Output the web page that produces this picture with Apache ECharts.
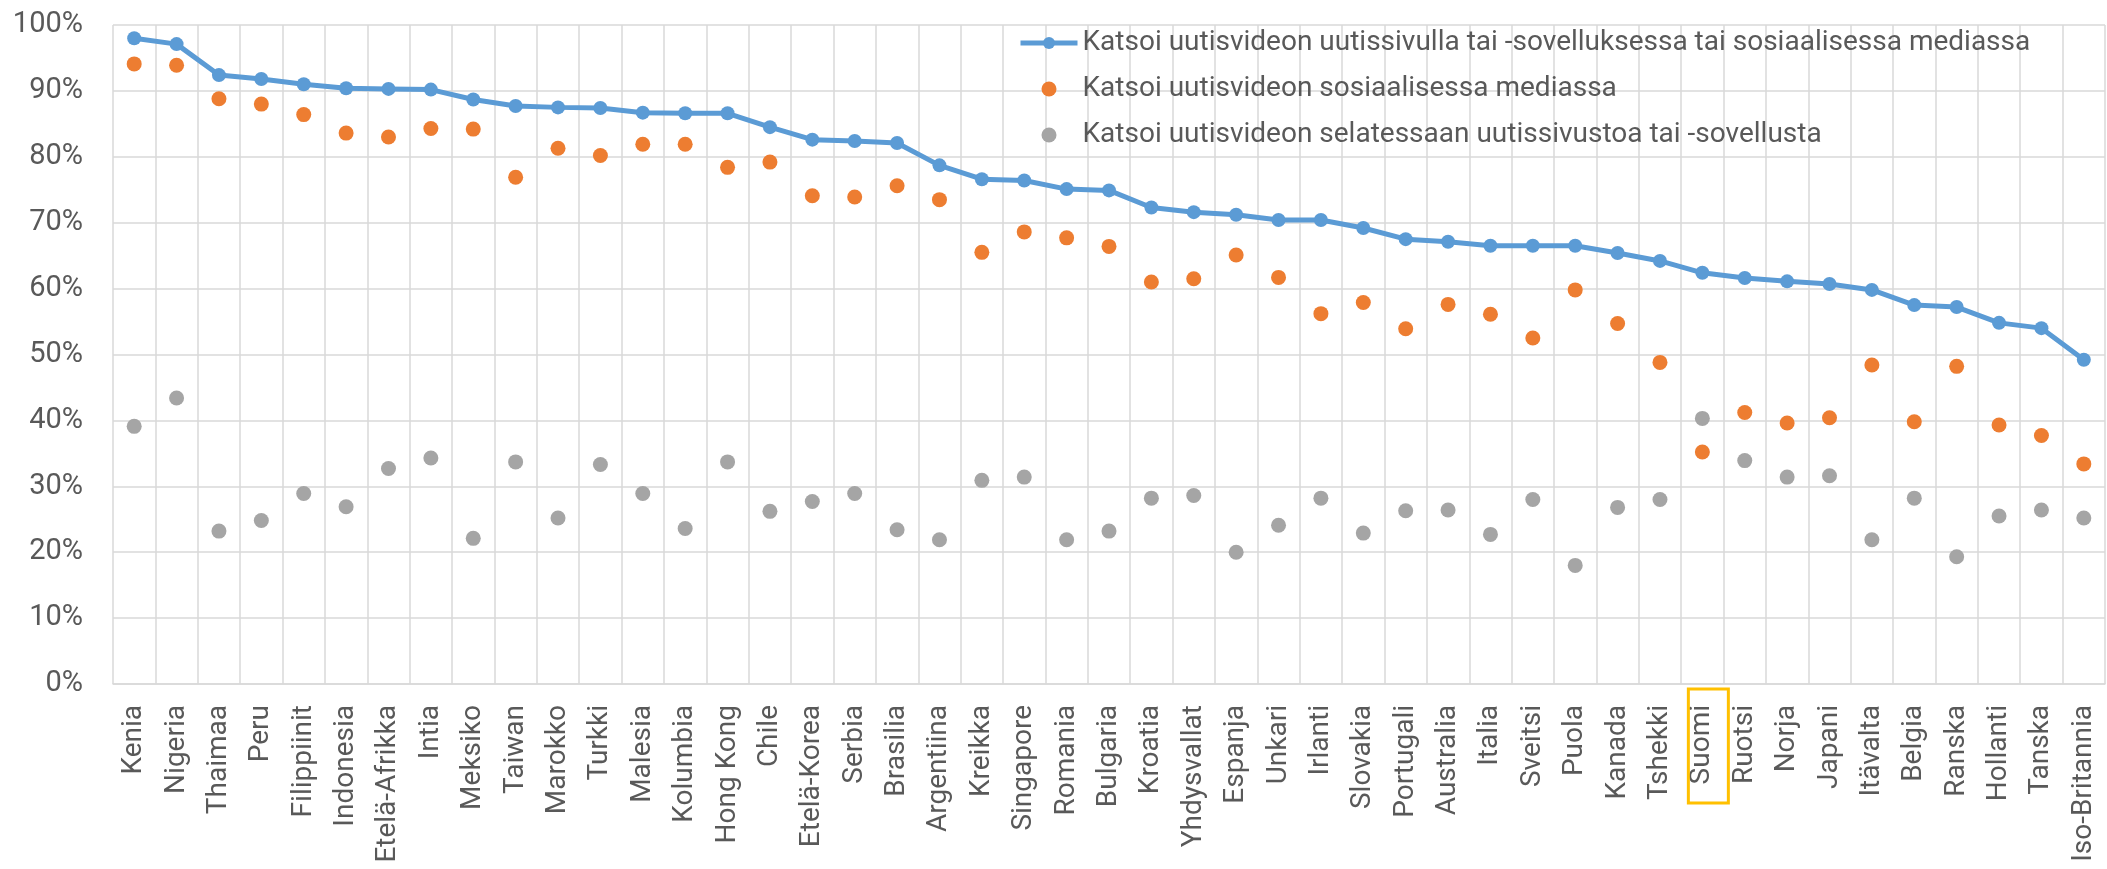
<!DOCTYPE html>
<html>
<head>
<meta charset="utf-8">
<script src="https://cdn.jsdelivr.net/npm/echarts@6/dist/echarts.min.js"></script>
<style>
  html, body { margin: 0; padding: 0; background: #ffffff; }
  #chart { width: 2107px; height: 869px; }
</style>
</head>
<body>
<div id="chart"></div>
<script>
// Countries, ordered by the share who watched a news video anywhere
const countries = [
  'Kenia', 'Nigeria', 'Thaimaa', 'Peru', 'Filippiinit', 'Indonesia', 'Etelä-Afrikka',
  'Intia', 'Meksiko', 'Taiwan', 'Marokko', 'Turkki', 'Malesia', 'Kolumbia', 'Hong Kong',
  'Chile', 'Etelä-Korea', 'Serbia', 'Brasilia', 'Argentiina', 'Kreikka', 'Singapore',
  'Romania', 'Bulgaria', 'Kroatia', 'Yhdysvallat', 'Espanja', 'Unkari', 'Irlanti',
  'Slovakia', 'Portugali', 'Australia', 'Italia', 'Sveitsi', 'Puola', 'Kanada',
  'Tshekki', 'Suomi', 'Ruotsi', 'Norja', 'Japani', 'Itävalta', 'Belgia', 'Ranska',
  'Hollanti', 'Tanska', 'Iso-Britannia'
];

// Watched a news video on a news site/app or in social media (%)
const anyPlatform = [
  98.0, 97.1, 92.4, 91.8, 91.0, 90.4, 90.3, 90.2, 88.7, 87.7, 87.5, 87.4, 86.7, 86.6,
  86.6, 84.5, 82.6, 82.4, 82.1, 78.7, 76.6, 76.4, 75.1, 74.9, 72.3, 71.6, 71.2, 70.4,
  70.4, 69.2, 67.5, 67.1, 66.5, 66.5, 66.5, 65.4, 64.2, 62.4, 61.6, 61.1, 60.7, 59.8,
  57.5, 57.2, 54.8, 54.0, 49.2
];

// Watched a news video in social media (%)
const socialMedia = [
  94.1, 93.9, 88.8, 88.0, 86.4, 83.6, 83.0, 84.3, 84.2, 76.9, 81.3, 80.2, 81.9, 81.9,
  78.4, 79.2, 74.1, 73.9, 75.6, 73.5, 65.5, 68.6, 67.7, 66.4, 61.0, 61.5, 65.1, 61.7,
  56.2, 57.9, 53.9, 57.6, 56.1, 52.5, 59.8, 54.7, 48.8, 35.2, 41.2, 39.6, 40.4, 48.4,
  39.8, 48.2, 39.3, 37.7, 33.4
];

// Watched a news video while browsing a news site or app (%)
const newsSite = [
  39.1, 43.4, 23.2, 24.8, 28.9, 26.9, 32.7, 34.3, 22.1, 33.7, 25.2, 33.3, 28.9, 23.6,
  33.7, 26.2, 27.7, 28.9, 23.4, 21.9, 30.9, 31.4, 21.9, 23.2, 28.2, 28.6, 20.0, 24.1,
  28.2, 22.9, 26.3, 26.4, 22.7, 28.0, 18.0, 26.8, 28.0, 40.3, 33.9, 31.4, 31.6, 21.9,
  28.2, 19.3, 25.5, 26.4, 25.2
];

const seriesNames = [
  'Katsoi uutisvideon uutissivulla tai -sovelluksessa tai sosiaalisessa mediassa',
  'Katsoi uutisvideon sosiaalisessa mediassa',
  'Katsoi uutisvideon selatessaan uutissivustoa tai -sovellusta'
];

const highlighted = 'Suomi';

const FONT = 'Roboto, "Noto Sans", sans-serif';
const TEXT = '#595959';
const GRID = '#d9d9d9';

const chart = echarts.init(document.getElementById('chart'));

chart.setOption({
  backgroundColor: '#ffffff',
  animation: false,
  grid: { left: 113, top: 25, width: 1992, height: 659, containLabel: false },
  legend: {
    orient: 'vertical',
    left: 1018,
    top: 20,
    padding: 0,
    itemWidth: 57,
    itemHeight: 15,
    itemGap: 0,
    data: seriesNames,
    lineStyle: { width: 5 },
    textStyle: { color: TEXT, fontFamily: FONT, fontSize: 28, lineHeight: 46 }
  },
  xAxis: {
    type: 'category',
    data: countries,
    boundaryGap: true,
    axisLine: { show: true, lineStyle: { color: GRID, width: 1.5 } },
    axisTick: { show: false },
    splitLine: { show: true, interval: 0, lineStyle: { color: GRID, width: 1.5 } },
    axisLabel: {
      interval: 0,
      rotate: 90,
      margin: 21,
      color: TEXT,
      fontFamily: FONT,
      fontSize: 28
    }
  },
  yAxis: {
    type: 'value',
    min: 0,
    max: 100,
    interval: 10,
    axisLine: { show: false },
    axisTick: { show: false },
    splitLine: { show: true, lineStyle: { color: GRID, width: 1.5 } },
    axisLabel: {
      formatter: '{value}%',
      margin: 30,
      color: TEXT,
      fontFamily: FONT,
      fontSize: 29
    }
  },
  series: [
    {
      name: seriesNames[0],
      type: 'line',
      data: anyPlatform,
      symbol: 'circle',
      symbolSize: 14,
      color: '#5b9bd5',
      lineStyle: { width: 5, color: '#5b9bd5' },
      itemStyle: { color: '#5b9bd5' },
      z: 2
    },
    {
      name: seriesNames[1],
      type: 'scatter',
      data: socialMedia,
      symbol: 'circle',
      symbolSize: 15,
      itemStyle: { color: '#ed7d31', opacity: 1 },
      z: 3
    },
    {
      name: seriesNames[2],
      type: 'scatter',
      data: newsSite,
      symbol: 'circle',
      symbolSize: 15,
      itemStyle: { color: '#a5a5a5', opacity: 1 },
      z: 3
    }
  ]
});

// Frame around the highlighted country's axis label, placed from the axis scale
const hx = chart.convertToPixel({ xAxisIndex: 0 }, highlighted);
const axisBottom = chart.convertToPixel({ yAxisIndex: 0 }, 0);
chart.setOption({
  graphic: [{
    type: 'rect',
    shape: { x: hx - 14, y: axisBottom + 5, width: 40, height: 114 },
    style: { fill: 'none', stroke: '#ffc000', lineWidth: 3 },
    z: 10
  }]
});
</script>
</body>
</html>
